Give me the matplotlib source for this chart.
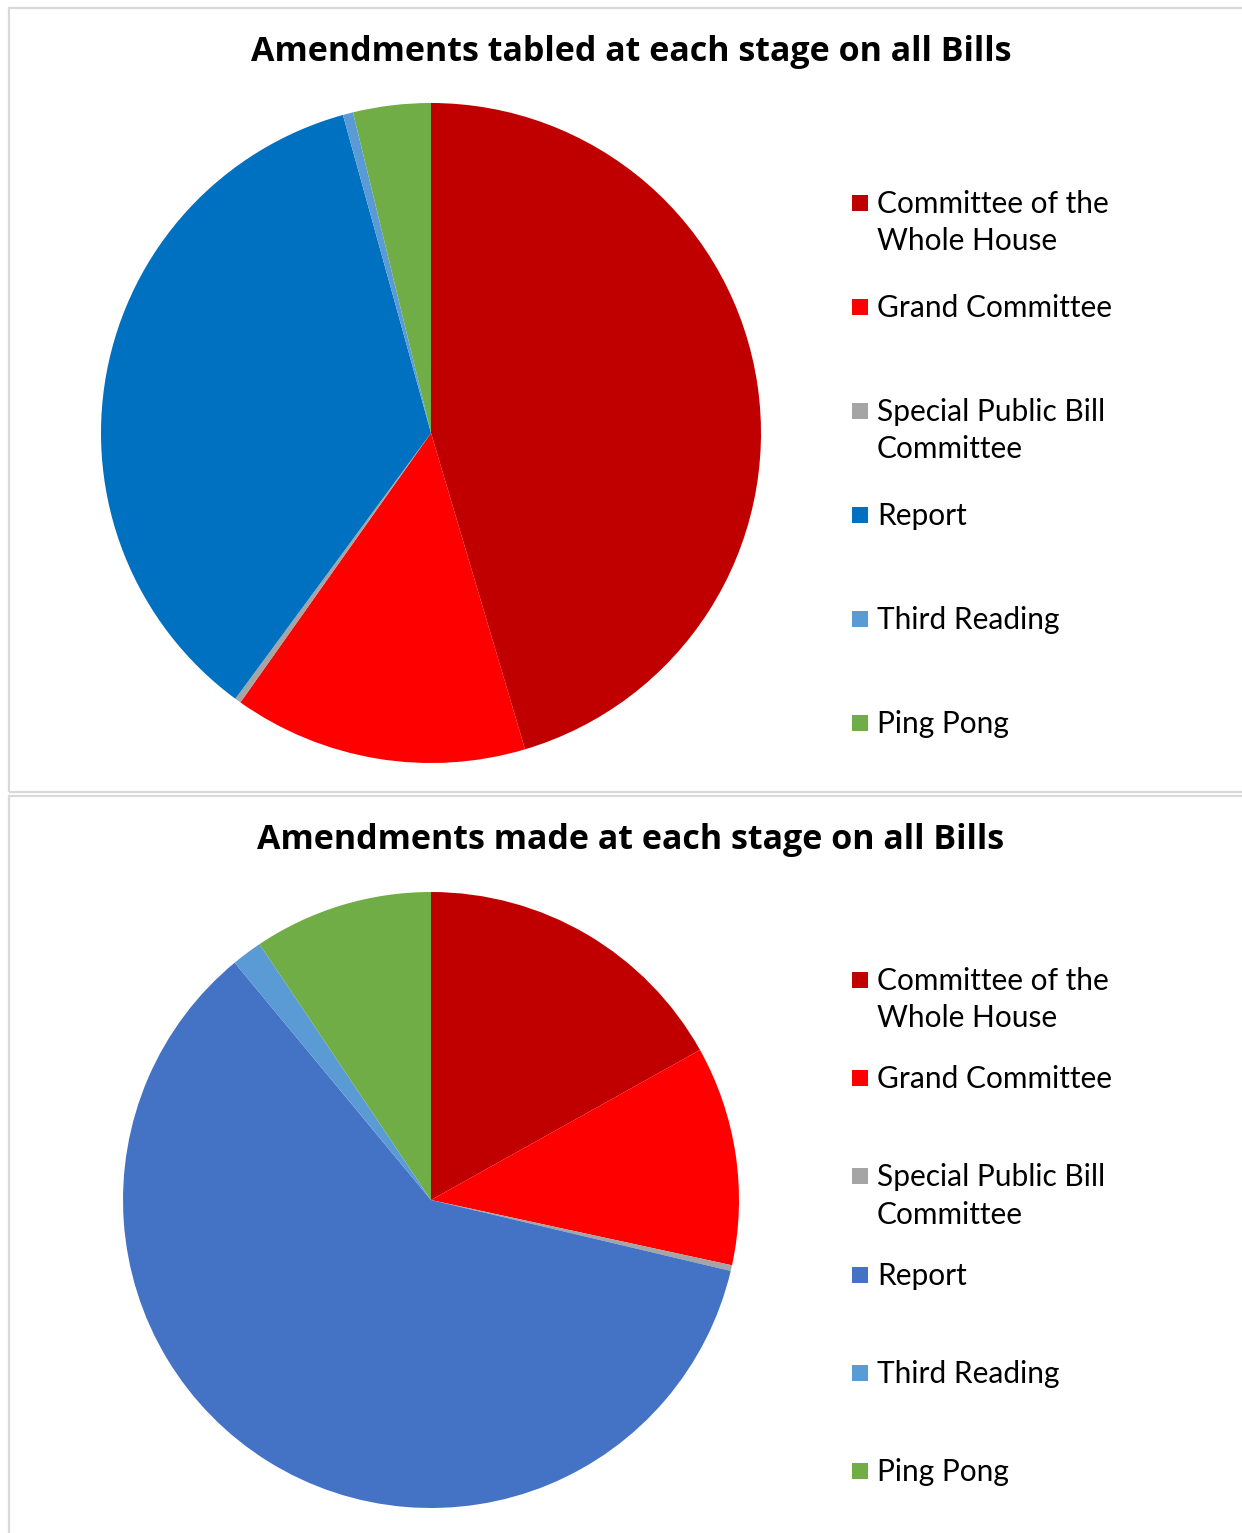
import matplotlib
matplotlib.use("Agg")
import matplotlib.pyplot as plt
from matplotlib.patches import Rectangle

W, H = 1242, 1533
categories = ["Committee of the\nWhole House", "Grand Committee", "Special Public Bill\nCommittee",
              "Report", "Third Reading", "Ping Pong"]
tabled = [45.4, 14.4, 0.3, 35.6, 0.5, 3.8]
made = [16.9, 11.5, 0.3, 60.3, 1.6, 9.4]
colors_top = ["#C00000", "#FF0000", "#A5A5A5", "#0070C0", "#5B9BD5", "#70AD47"]
colors_bot = ["#C00000", "#FF0000", "#A5A5A5", "#4472C4", "#5B9BD5", "#70AD47"]
titles = ["Amendments tabled at each stage on all Bills", "Amendments made at each stage on all Bills"]

fig = plt.figure(figsize=(W / 100, H / 100), dpi=100)
fig.patch.set_facecolor("white")

def fx(x): return x / W
def fy(y): return 1 - y / H

# panel borders
for (y0, y1) in [(8, 792), (796, 1545)]:
    fig.patches.append(Rectangle((fx(9), fy(y1)), fx(1260) - fx(9), fy(y0) - fy(y1),
                                 transform=fig.transFigure, fill=False,
                                 edgecolor="#D9D9D9", linewidth=1.6))

panels = [
    dict(vals=tabled, colors=colors_top, cx=431, cy=433, r=330, title_y=52, leg_y0=203, leg_dy=104),
    dict(vals=made, colors=colors_bot, cx=431, cy=1200, r=308, title_y=840, leg_y0=980, leg_dy=98.2),
]

for p, title in zip(panels, titles):
    cx, cy, r = p["cx"], p["cy"], p["r"]
    ax = fig.add_axes([fx(cx - r), fy(cy + r), 2 * r / W, 2 * r / H])
    ax.pie(p["vals"], colors=p["colors"], startangle=90, counterclock=False,
           wedgeprops=dict(linewidth=0))
    ax.set_xlim(-1, 1)
    ax.set_ylim(-1, 1)
    ax.set_aspect("equal")
    ax.axis("off")
    fig.text(fx(631), fy(p["title_y"]), title, ha="center", va="center",
             fontsize=24.5, fontweight="bold", family="Open Sans")
    for i, (lab, col) in enumerate(zip(categories, p["colors"])):
        y = p["leg_y0"] + i * p["leg_dy"]
        fig.patches.append(Rectangle((fx(852), fy(y + 8)), 16 / W, 16 / H,
                                     transform=fig.transFigure, facecolor=col, edgecolor="none"))
        fig.text(fx(877), fy(y - 13), lab, ha="left", va="top", fontsize=21.5,
                 family="Lato", linespacing=1.4)

fig.savefig("out.png", dpi=100, facecolor="white")
